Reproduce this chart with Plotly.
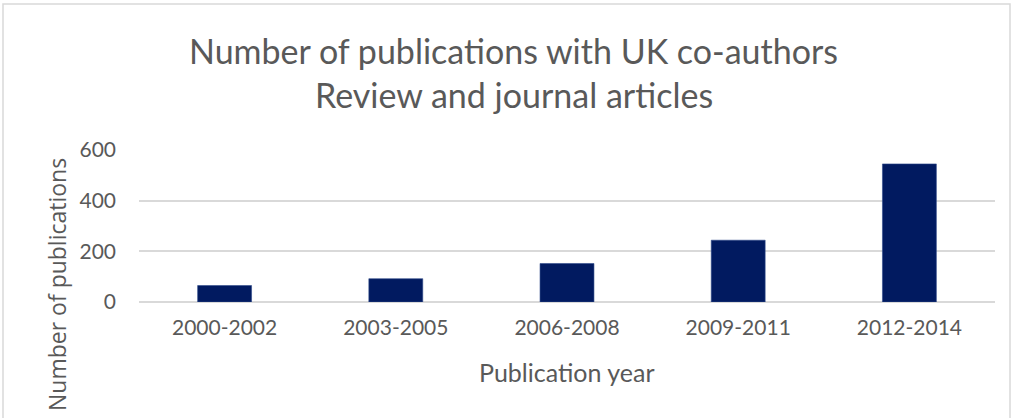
import plotly.graph_objects as go

# Publication counts per three-year period
periods = ["2000-2002", "2003-2005", "2006-2008", "2009-2011", "2012-2014"]
publications = [65, 92, 152, 244, 545]
y_ticks = [0, 200, 400, 600]

W, H = 1013, 418
L, R, T, B = 139, 18, 150, 116
plot_w = W - L - R
plot_h = H - T - B


def px_x(px):
    return (px - L) / plot_w


def px_y(py):
    return (H - B - py) / plot_h


text_color = "#595959"
grid_color = "#d9d9d9"

fig = go.Figure(
    go.Bar(
        x=periods,
        y=publications,
        marker=dict(color="#011a60", line=dict(color="#2f4a8a", width=0.6)),
        hoverinfo="x+y",
    )
)

fig.update_layout(
    width=W,
    height=H,
    margin=dict(l=L, r=R, t=T, b=B, pad=0),
    paper_bgcolor="white",
    plot_bgcolor="white",
    bargap=0.685,
    showlegend=False,
    font=dict(family="Lato", color=text_color),
)

fig.update_xaxes(
    type="category",
    showgrid=False,
    showline=False,
    zeroline=False,
    ticks="",
    tickfont=dict(family="Lato", size=21, color=text_color),
    ticklabelstandoff=11,
)

fig.update_yaxes(
    range=[0, 600],
    tickvals=y_ticks,
    ticktext=[str(v) for v in y_ticks],
    showgrid=True,
    gridcolor=grid_color,
    gridwidth=1.5,
    zeroline=True,
    zerolinecolor=grid_color,
    zerolinewidth=1.5,
    showline=False,
    ticks="",
    tickfont=dict(family="Lato", size=21, color=text_color),
    ticklabelstandoff=22,
)

# Titles are centred on the whole chart, not on the plot area
annotations = [
    dict(text="Number of publications with UK co-authors", x=px_x(513), xref="paper",
         y=px_y(50), yref="paper", xanchor="center", yanchor="middle",
         showarrow=False, font=dict(family="Lato", size=34, color=text_color)),
    dict(text="Review and journal articles", x=px_x(514), xref="paper",
         y=px_y(95), yref="paper", xanchor="center", yanchor="middle",
         showarrow=False, font=dict(family="Lato", size=34, color=text_color)),
    dict(text="Publication year", x=px_x(567), xref="paper",
         y=px_y(372), yref="paper", xanchor="center", yanchor="middle",
         showarrow=False, font=dict(family="Lato", size=25, color=text_color)),
    dict(text="Number of publications", x=px_x(57), xref="paper",
         y=px_y(285), yref="paper", xanchor="center", yanchor="middle",
         textangle=-90, showarrow=False,
         font=dict(family="Open Sans", size=23, color=text_color)),
]
fig.update_layout(annotations=annotations)

# Chart frame
fig.add_shape(
    type="rect", xref="paper", yref="paper",
    x0=px_x(3), x1=px_x(1010), y0=px_y(425), y1=px_y(4),
    line=dict(color=grid_color, width=1.5), fillcolor="rgba(0,0,0,0)",
    layer="below",
)

fig.write_html("out.html")
